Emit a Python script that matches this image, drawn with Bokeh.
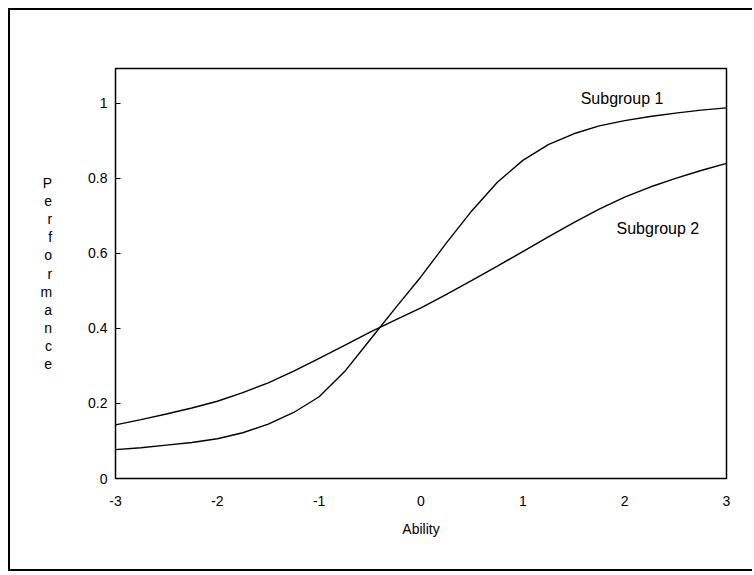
from bokeh.plotting import figure
from bokeh.models import Label, FixedTicker, Range1d
from bokeh.embed import file_html
from bokeh.resources import INLINE

# Data
ability = [-3.0, -2.75, -2.5, -2.25, -2.0, -1.75, -1.5, -1.25, -1.0, -0.75, -0.5, -0.25,
           0.0, 0.25, 0.5, 0.75, 1.0, 1.25, 1.5, 1.75, 2.0, 2.25, 2.5, 2.75, 3.0]
subgroup1 = [0.077, 0.082, 0.089, 0.096, 0.106, 0.122, 0.145, 0.176, 0.218, 0.285, 0.370, 0.455,
             0.538, 0.628, 0.714, 0.790, 0.848, 0.890, 0.919, 0.940, 0.954, 0.965, 0.974, 0.982, 0.988]
subgroup2 = [0.143, 0.157, 0.172, 0.188, 0.206, 0.229, 0.255, 0.286, 0.320, 0.355, 0.390, 0.423,
             0.455, 0.491, 0.528, 0.566, 0.605, 0.644, 0.682, 0.718, 0.750, 0.777, 0.800, 0.821, 0.840]
x_ticks = [-3, -2, -1, 0, 1, 2, 3]
x_tick_labels = ["-3", "-2", "-1", "0", "1", "2", "3"]
y_ticks = [0, 0.2, 0.4, 0.6, 0.8, 1]
y_tick_labels = ["0", "0.2", "0.4", "0.6", "0.8", "1"]
series_names = ["Subgroup 1", "Subgroup 2"]
x_title = "Ability"
y_title = "Performance"

FONT = "Liberation Sans"

p = figure(width=744, height=563, output_backend="svg", toolbar_location=None,
           x_range=Range1d(-3, 3), y_range=Range1d(0, 1.093),
           min_border_left=105, min_border_right=28, min_border_top=58, min_border_bottom=95)
p.styles = {"margin-left": "8px", "margin-top": "8px",
            "border-left": "2px solid black", "border-top": "2px solid black",
            "border-bottom": "2px solid black",
            "border-right-width": "0px", "border-right-color": "white"}

p.xgrid.visible = False
p.ygrid.visible = False
p.outline_line_color = "black"
p.outline_line_width = 1.5
p.background_fill_color = "white"
p.border_fill_color = "white"

p.line(ability, subgroup1, line_color="black", line_width=1.4)
p.line(ability, subgroup2, line_color="black", line_width=1.4)

# x axis
xa = p.xaxis[0]
xa.ticker = FixedTicker(ticks=x_ticks)
xa.major_label_overrides = {t: s for t, s in zip(x_ticks, x_tick_labels)}
xa.axis_line_color = None
xa.major_tick_in = 0
xa.major_tick_out = 0
xa.minor_tick_line_color = None
xa.major_label_standoff = 17
xa.major_label_text_font = FONT
xa.major_label_text_font_size = "14px"
xa.major_label_text_color = "black"
xa.axis_label = x_title
xa.axis_label_text_font = FONT
xa.axis_label_text_font_style = "normal"
xa.axis_label_text_font_size = "14px"
xa.axis_label_text_color = "black"
xa.axis_label_standoff = 12

# y axis
ya = p.yaxis[0]
ya.ticker = FixedTicker(ticks=y_ticks)
ya.major_label_overrides = {t: s for t, s in zip(y_ticks, y_tick_labels)}
ya.axis_line_color = None
ya.major_tick_in = 5
ya.major_tick_out = 0
ya.major_tick_line_color = "black"
ya.major_tick_line_width = 1.2
ya.minor_tick_line_color = None
ya.major_label_standoff = 8
ya.major_label_text_font = FONT
ya.major_label_text_font_size = "14px"
ya.major_label_text_color = "black"
ya.axis_label = "\n".join(y_title)
ya.axis_label_orientation = "horizontal"
ya.axis_label_text_font = FONT
ya.axis_label_text_font_style = "normal"
ya.axis_label_text_font_size = "14px"
ya.axis_label_text_line_height = 1.13
ya.axis_label_text_color = "black"
ya.axis_label_standoff = 33

# curve labels
p.add_layout(Label(x=1.568, y=1.013, text=series_names[0], text_font=FONT,
                   text_font_size="16px", text_color="black", text_baseline="middle"))
p.add_layout(Label(x=1.92, y=0.667, text=series_names[1], text_font=FONT,
                   text_font_size="16px", text_color="black", text_baseline="middle"))

open("out.html", "w").write(file_html(p, INLINE))
